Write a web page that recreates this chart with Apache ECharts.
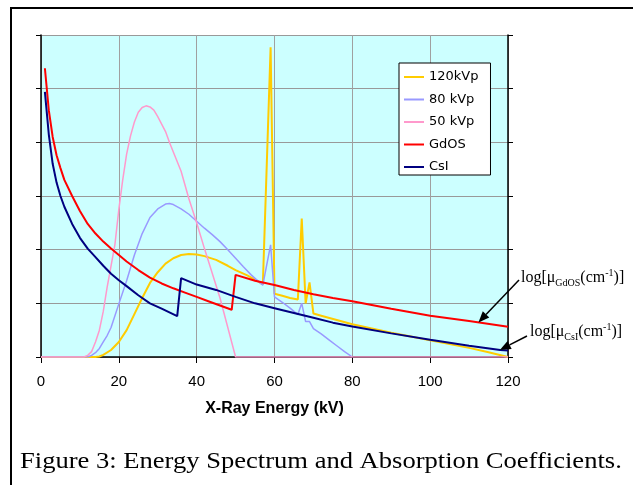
<!DOCTYPE html>
<html>
<head>
<meta charset="UTF-8">
<title>Energy Spectrum and Absorption Coefficients</title>
<script src="https://cdn.jsdelivr.net/npm/echarts@6/dist/echarts.min.js"></script>
<style>
  html, body { margin: 0; padding: 0; background: #fff; }
  #main { width: 633px; height: 485px; }
</style>
</head>
<body>
<div id="main"></div>
<script>
// values: [energy kV, value in grid units]
var names = ['120kVp', '80 kVp', '50 kVp', 'GdOS', 'CsI'];

var kvp120 = [
  [0, 0], [14, 0], [15, 0.01], [16, 0.04], [18, 0.13], [20, 0.28], [22, 0.5], [24, 0.8],
  [26, 1.1], [28, 1.38], [30, 1.58], [32, 1.74], [34, 1.84], [36, 1.9], [38, 1.92],
  [40, 1.91], [42, 1.88], [45, 1.81], [48, 1.7], [50, 1.62], [53, 1.52], [56, 1.4],
  [57, 1.35], [59, 5.77], [60, 1.18], [62, 1.14], [64, 1.1], [66, 1.07], [67, 2.58],
  [68, 1.0], [69, 1.39], [70, 0.81], [72, 0.77], [76, 0.69], [80, 0.61], [85, 0.53],
  [90, 0.45], [95, 0.38], [100, 0.31], [105, 0.24], [110, 0.17], [115, 0.09], [120, 0]
];

var kvp80 = [
  [0, 0], [12, 0], [13, 0.03], [14, 0.08], [15, 0.16], [16, 0.28], [17, 0.4], [18, 0.55],
  [20, 0.99], [22, 1.42], [24, 1.9], [26, 2.3], [28, 2.6], [30, 2.76], [32, 2.85],
  [33, 2.86], [34, 2.84], [36, 2.76], [38, 2.66], [40, 2.53], [42, 2.4], [44, 2.28],
  [46, 2.15], [48, 2.0], [50, 1.84], [52, 1.68], [54, 1.53], [56, 1.4], [57, 1.34],
  [59, 2.09], [60, 1.12], [62, 1.02], [64, 0.91], [66, 0.79], [67, 1.0], [68, 0.66],
  [69, 0.66], [70, 0.53], [72, 0.43], [74, 0.32], [76, 0.21], [78, 0.1], [80, 0]
];

var kvp50 = [
  [0, 0], [11, 0], [12, 0.03], [13, 0.1], [14, 0.28], [15, 0.5], [16, 0.85], [17, 1.3],
  [18, 1.7], [19, 2.1], [20, 2.75], [21, 3.3], [22, 3.78], [23, 4.12], [24, 4.38],
  [25, 4.56], [26, 4.65], [27, 4.68], [28, 4.66], [29, 4.6], [30, 4.48], [32, 4.2],
  [33, 4.0], [34, 3.82], [36, 3.46], [38, 2.95], [40, 2.5], [42, 2.02], [44, 1.56],
  [46, 1.1], [48, 0.55], [50, 0], [120, 0]
];

var gdos = [
  [1, 5.38], [2, 4.6], [3, 4.1], [4, 3.76], [5, 3.52], [6, 3.3], [8, 3.0], [10, 2.72],
  [12, 2.48], [14, 2.3], [16, 2.15], [18, 2.02], [20, 1.9], [22, 1.78], [25, 1.62],
  [28, 1.48], [31, 1.37], [34, 1.28], [37, 1.2], [40, 1.12], [43, 1.04], [46, 0.96],
  [49, 0.88], [50, 1.53], [55, 1.42], [60, 1.34], [65, 1.25], [70, 1.17], [75, 1.1],
  [80, 1.04], [90, 0.9], [100, 0.77], [110, 0.67], [120, 0.565]
];

var csi = [
  [1, 4.94], [2, 4.15], [3, 3.6], [4, 3.25], [5, 3.0], [6, 2.8], [8, 2.48], [10, 2.22],
  [12, 2.02], [14, 1.86], [16, 1.7], [18, 1.55], [20, 1.43], [22, 1.32], [25, 1.15],
  [28, 1.0], [31, 0.9], [35, 0.76], [36, 1.47], [40, 1.35], [45, 1.25], [50, 1.12],
  [55, 1.0], [60, 0.91], [65, 0.82], [70, 0.73], [75, 0.64], [80, 0.57], [90, 0.44],
  [100, 0.32], [110, 0.21], [118, 0.13], [120, 0.12]
];

var colors = ['#FFCC00', '#9999FF', '#FF99CC', '#FF0000', '#000080'];
var widths = [2, 1.5, 1.5, 2, 2];
var allData = [kvp120, kvp80, kvp50, gdos, csi];

function interp(data, x) {
  for (var i = 1; i < data.length; i++) {
    if (data[i][0] >= x) {
      var a = data[i - 1], b = data[i];
      return a[1] + (b[1] - a[1]) * (x - a[0]) / (b[0] - a[0]);
    }
  }
  return data[data.length - 1][1];
}

var series = names.map(function (n, i) {
  return {
    name: n,
    type: 'line',
    data: allData[i],
    symbol: 'none',
    smooth: false,
    lineStyle: { color: colors[i], width: widths[i] },
    itemStyle: { color: colors[i] }
  };
});

var axisBase = {
  type: 'value', min: 0, max: 6, interval: 1,
  axisLabel: { show: false },
  axisLine: { show: true, lineStyle: { color: '#000', width: 1.5 } },
  axisTick: { show: true, length: 5, inside: false, lineStyle: { color: '#000' } }
};

var option = {
  animation: false,
  backgroundColor: '#fff',
  grid: {
    left: 41, right: 125, top: 35, bottom: 128,
    show: true, backgroundColor: '#CCFFFF', borderWidth: 0
  },
  legend: {
    orient: 'vertical',
    left: 399, top: 63,
    padding: [7, 12, 1, 5],
    icon: 'rect',
    itemWidth: 20, itemHeight: 2, itemGap: 8.5,
    borderColor: '#000', borderWidth: 1, backgroundColor: '#fff',
    textStyle: { fontFamily: 'DejaVu Sans', fontSize: 13, lineHeight: 14, color: '#000' },
    data: names
  },
  xAxis: {
    type: 'value', min: 0, max: 120, interval: 20,
    name: 'X-Ray Energy (kV)',
    nameLocation: 'middle', nameGap: 44,
    nameTextStyle: { fontFamily: 'Liberation Sans', fontSize: 16, fontWeight: 'bold', color: '#000' },
    axisLine: { lineStyle: { color: '#000', width: 1.5 } },
    axisTick: { length: 6, lineStyle: { color: '#000' } },
    axisLabel: { margin: 17, fontFamily: 'Liberation Sans', fontSize: 15, color: '#000' },
    splitLine: { show: true, lineStyle: { color: '#A0A0A0', width: 1 } }
  },
  yAxis: [
    Object.assign({}, axisBase, {
      position: 'left',
      splitLine: { show: true, lineStyle: { color: '#999', width: 1 } }
    }),
    Object.assign({}, axisBase, {
      position: 'right',
      splitLine: { show: false }
    })
  ],
  series: series
};

var chart = echarts.init(document.getElementById('main'));
chart.setOption(option);

function arrow(tail, tip) {
  var dx = tip[0] - tail[0], dy = tip[1] - tail[1];
  var len = Math.sqrt(dx * dx + dy * dy);
  var ux = dx / len, uy = dy / len;
  var hl = 11, hw = 4.5;
  var bx = tip[0] - ux * hl, by = tip[1] - uy * hl;
  return [
    { type: 'line', shape: { x1: tail[0], y1: tail[1], x2: bx, y2: by },
      style: { stroke: '#000', lineWidth: 1.5 }, z: 100 },
    { type: 'polygon',
      shape: { points: [tip, [bx - uy * hw, by + ux * hw], [bx + uy * hw, by - ux * hw]] },
      style: { fill: '#000' }, z: 100 }
  ];
}

var tipG = chart.convertToPixel({ xAxisIndex: 0, yAxisIndex: 0 }, [112.4, interp(gdos, 112.4)]);
var tipC = chart.convertToPixel({ xAxisIndex: 0, yAxisIndex: 0 }, [117.9, interp(csi, 117.9)]);

var richLabel = {
  m: { fontFamily: 'Liberation Serif', fontSize: 16, color: '#000', lineHeight: 20, verticalAlign: 'middle' },
  sub: { fontFamily: 'Liberation Serif', fontSize: 10, color: '#000', lineHeight: 10, verticalAlign: 'bottom' },
  sup: { fontFamily: 'Liberation Serif', fontSize: 10, color: '#000', lineHeight: 12, verticalAlign: 'top' }
};

var graphics = [
  { type: 'polyline', shape: { points: [[11, 485], [11, 8], [633, 8]] },
    style: { stroke: '#000', lineWidth: 2, fill: null }, z: 100 },
  { type: 'text', x: 20, y: 462, scaleX: 1.155,
    style: { text: 'Figure 3: Energy Spectrum and Absorption Coefficients.',
      fontFamily: 'Liberation Serif', fontSize: 23, fill: '#000', align: 'left', verticalAlign: 'middle' }, z: 100 },
  { type: 'text', x: 521, y: 268,
    style: { text: '{m|log[μ}{sub|GdOS}{m|(cm}{sup|-1}{m|)]}', rich: richLabel }, z: 100 },
  { type: 'text', x: 530, y: 322,
    style: { text: '{m|log[μ}{sub|CsI}{m|(cm}{sup|-1}{m|)]}', rich: richLabel }, z: 100 }
].concat(arrow([519, 280], tipG), arrow([527, 336], tipC));

chart.setOption({ graphic: graphics });
</script>
</body>
</html>
